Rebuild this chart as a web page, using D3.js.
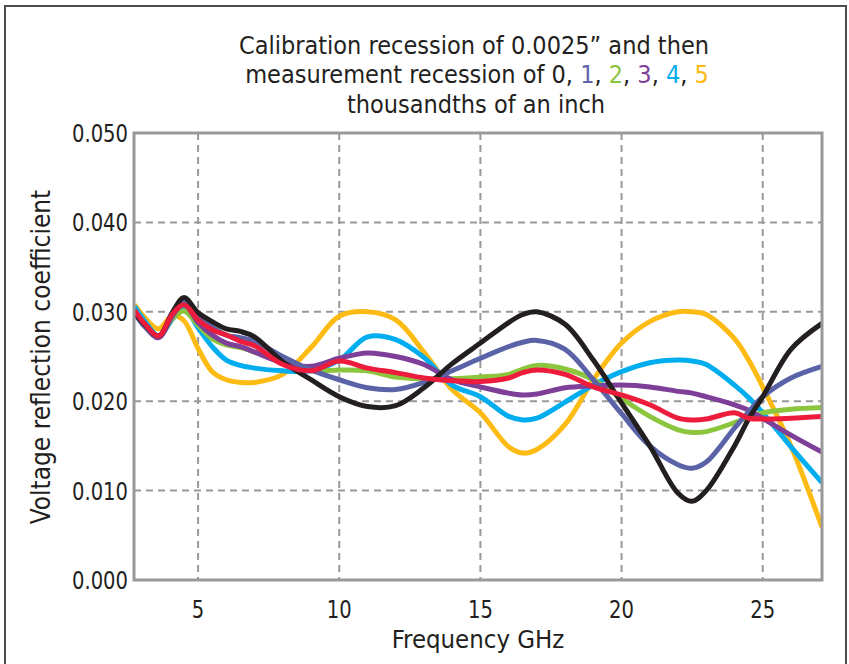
<!DOCTYPE html>
<html>
<head>
<meta charset="utf-8">
<script src="https://cdn.jsdelivr.net/npm/d3@7"></script>
<style>
  body { margin: 0; background: #fff; }
  svg text { font-family: "Liberation Sans Narrow", "DejaVu Sans Condensed", "Roboto", sans-serif; fill: #231f20; }
</style>
</head>
<body>
<div id="chart"></div>
<script>
// frequency points (GHz) shared by every trace
var freqGHz = [2.75, 3.1, 3.6, 4.1, 4.5, 5, 5.5, 6, 6.5, 7, 8, 9, 10, 11, 12, 13, 14, 15, 16, 16.5, 17, 18, 19, 20, 21, 22, 22.5, 23, 24, 24.5, 25, 26, 27.1]

// measurement recession, thousandths of an inch
var rec0 = [.0299, .0286, .0273, .0300, .0316, .0299, .0289, .0281, .0278, .0272, .0244, .0224, .0205, .0194, .0195, .0215, .0242, .0265, .0288, .0297, .0300, .0286, .0246, .0198, .0150, .0097, .0088, .0100, .0150, .0180, .0205, .0258, .0287]
var rec1 = [.0300, .0284, .0273, .0298, .0313, .0297, .0283, .0274, .0271, .0267, .0250, .0235, .0224, .0215, .0213, .0221, .0234, .0248, .0261, .0266, .0268, .0258, .0224, .0186, .0150, .0129, .0125, .0132, .0170, .0188, .0205, .0226, .0239]
var rec2 = [.0300, .0285, .0273, .0293, .0301, .0285, .0270, .0263, .0260, .0255, .0244, .0234, .0235, .0234, .0227, .0225, .0225, .0227, .0230, .0236, .0240, .0236, .0224, .0203, .0183, .0168, .0165, .0166, .0176, .0182, .0187, .0191, .0193]
var rec3 = [.0298, .0284, .0271, .0296, .0309, .0288, .0274, .0265, .0261, .0255, .0243, .0239, .0248, .0254, .0250, .0241, .0224, .0216, .0209, .0207, .0208, .0215, .0217, .0218, .0216, .0211, .0209, .0205, .0196, .0190, .0181, .0162, .0143]
var rec4 = [.0306, .0290, .0273, .0292, .0305, .0282, .0261, .0246, .0240, .0237, .0234, .0234, .0246, .0272, .0269, .0249, .0218, .0205, .0183, .0179, .0181, .0199, .0218, .0233, .0243, .0246, .0245, .0241, .0218, .0204, .0187, .0149, .0109]
var rec5 = [.0308, .0294, .0281, .0296, .0290, .0259, .0233, .0224, .0221, .0221, .0230, .0260, .0295, .0300, .0291, .0255, .0213, .0187, .0149, .0142, .0146, .0174, .0224, .0265, .0289, .0300, .0300, .0297, .0270, .0246, .0216, .0150, .0059]
var recRed = [.0302, .0287, .0273, .0298, .0308, .0291, .0280, .0274, .0267, .0262, .0241, .0234, .0245, .0237, .0232, .0226, .0223, .0222, .0226, .0232, .0235, .0230, .0216, .0207, .0196, .0181, .0179, .0180, .0187, .0181, .0180, .0181, .0183]

var yTicks = [0, 0.01, 0.02, 0.03, 0.04, 0.05]
var xTicks = [5, 10, 15, 20, 25]

var width = 849
var height = 664

var svg = d3
  .select('#chart')
  .append('svg')
  .attr('width', width)
  .attr('height', height)

// outer frame
svg
  .append('rect')
  .attr('x', 5)
  .attr('y', 6)
  .attr('width', 841)
  .attr('height', 680)
  .attr('fill', 'none')
  .attr('stroke', '#4d4d4d')
  .attr('stroke-width', 2)

var plot = { left: 134, right: 822, top: 133, bottom: 580 }

var xScale = d3.scaleLinear().domain([2.73, 27.1]).range([plot.left, plot.right])
var yScale = d3.scaleLinear().domain([0, 0.05]).range([plot.bottom, plot.top])

// grid
svg
  .selectAll('.vgrid')
  .data(xTicks)
  .enter()
  .append('line')
  .attr('x1', d => xScale(d))
  .attr('x2', d => xScale(d))
  .attr('y1', plot.top)
  .attr('y2', plot.bottom)
  .attr('stroke', '#999')
  .attr('stroke-width', 2)
  .attr('stroke-dasharray', '7,5')

svg
  .selectAll('.hgrid')
  .data(yTicks.slice(1, 5))
  .enter()
  .append('line')
  .attr('x1', plot.left)
  .attr('x2', plot.right)
  .attr('y1', d => yScale(d))
  .attr('y2', d => yScale(d))
  .attr('stroke', '#999')
  .attr('stroke-width', 2)
  .attr('stroke-dasharray', '7,5')

// traces
var series = [
  { vals: rec5, color: '#fdbb14' },
  { vals: rec4, color: '#00aeef' },
  { vals: rec2, color: '#8cc63f' },
  { vals: rec3, color: '#7d3f98' },
  { vals: rec1, color: '#5b63a8' },
  { vals: rec0, color: '#231f20' },
  { vals: recRed, color: '#ed1c3c' }
]

var line = d3
  .line()
  .x((d, i) => xScale(freqGHz[i]))
  .y(d => yScale(d))
  .curve(d3.curveCatmullRom.alpha(0.5))

svg
  .append('clipPath')
  .attr('id', 'clip')
  .append('rect')
  .attr('x', plot.left)
  .attr('y', plot.top)
  .attr('width', plot.right - plot.left)
  .attr('height', plot.bottom - plot.top)

svg
  .append('g')
  .attr('clip-path', 'url(#clip)')
  .selectAll('.trace')
  .data(series)
  .enter()
  .append('path')
  .attr('class', 'trace')
  .attr('d', d => line(d.vals))
  .attr('fill', 'none')
  .attr('stroke', d => d.color)
  .attr('stroke-width', 5)
  .attr('stroke-linejoin', 'round')

// plot frame
svg
  .append('rect')
  .attr('x', plot.left)
  .attr('y', plot.top)
  .attr('width', plot.right - plot.left)
  .attr('height', plot.bottom - plot.top)
  .attr('fill', 'none')
  .attr('stroke', '#999')
  .attr('stroke-width', 3)

// tick labels (narrowed a bit to look like the condensed face)
svg
  .selectAll('.ylab')
  .data(yTicks)
  .enter()
  .append('text')
  .attr('transform', d => 'translate(128,' + (yScale(d) + 9) + ') scale(0.87,1)')
  .attr('text-anchor', 'end')
  .attr('font-size', 25)
  .text(d => d3.format('.3f')(d))

svg
  .selectAll('.xlab')
  .data(xTicks)
  .enter()
  .append('text')
  .attr('transform', d => 'translate(' + xScale(d) + ',618) scale(0.87,1)')
  .attr('text-anchor', 'middle')
  .attr('font-size', 25)
  .text(d => d)

svg
  .append('text')
  .attr('x', 478)
  .attr('y', 648)
  .attr('text-anchor', 'middle')
  .attr('font-size', 25.5)
  .text('Frequency GHz')

svg
  .append('text')
  .attr('transform', 'translate(50,357) rotate(-90)')
  .attr('text-anchor', 'middle')
  .attr('font-size', 26)
  .text('Voltage reflection coefficient')

// title
svg
  .append('text')
  .attr('x', 474)
  .attr('y', 54)
  .attr('text-anchor', 'middle')
  .attr('font-size', 25)
  .text('Calibration recession of 0.0025\u201D and then')

var t2 = svg
  .append('text')
  .attr('x', 477)
  .attr('y', 83)
  .attr('text-anchor', 'middle')
  .attr('font-size', 25)

var parts = [
  ['measurement recession of 0, ', '#231f20'],
  ['1', '#5b63a8'], [', ', '#231f20'],
  ['2', '#8cc63f'], [', ', '#231f20'],
  ['3', '#7d3f98'], [', ', '#231f20'],
  ['4', '#00aeef'], [', ', '#231f20'],
  ['5', '#fdbb14']
]
parts.forEach(p => {
  t2.append('tspan').text(p[0]).style('fill', p[1])
})

svg
  .append('text')
  .attr('x', 476)
  .attr('y', 113)
  .attr('text-anchor', 'middle')
  .attr('font-size', 25)
  .text('thousandths of an inch')
</script>
</body>
</html>
